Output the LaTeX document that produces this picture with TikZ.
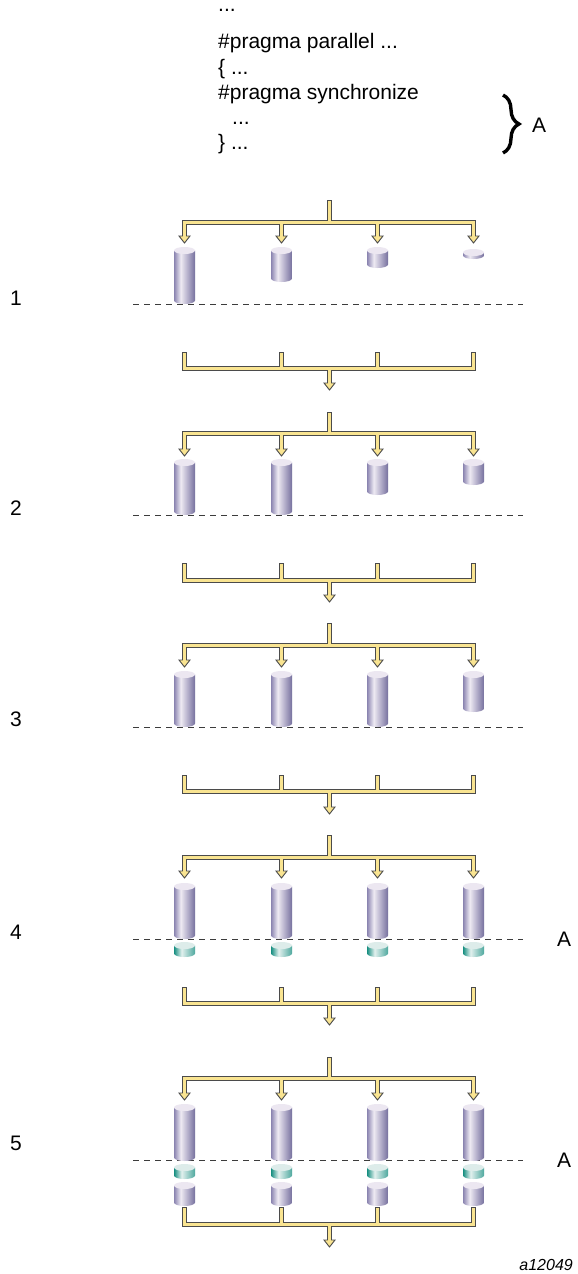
\documentclass[tikz,border=0pt]{standalone}
\usepackage{fontspec}
\setmainfont{Liberation Sans}
\usetikzlibrary{decorations.pathreplacing}
\definecolor{pipeyel}{RGB}{249,228,145}
\definecolor{pipedark}{RGB}{75,75,75}
\definecolor{dashcol}{RGB}{60,60,60}
\definecolor{pl}{RGB}{138,132,176}
\definecolor{ph}{RGB}{238,234,243}
\definecolor{pr}{RGB}{118,112,158}
\definecolor{ptop}{RGB}{236,231,241}
\definecolor{tl}{RGB}{22,142,128}
\definecolor{th}{RGB}{226,240,238}
\definecolor{tr}{RGB}{78,168,158}
\definecolor{ttop}{RGB}{221,236,234}
\pgfdeclarehorizontalshading{purpleside}{100bp}{color(0bp)=(pl); color(25bp)=(pl); color(41bp)=(ph); color(75bp)=(pr); color(100bp)=(pr)}
\pgfdeclarehorizontalshading{tealside}{100bp}{color(0bp)=(tl); color(25bp)=(tl); color(43bp)=(th); color(75bp)=(tr); color(100bp)=(tr)}
\tikzset{
  pipeout/.style={line width=5pt, draw=pipedark, line join=miter, line cap=butt},
  pipein/.style={line width=3pt, draw=pipeyel, line join=miter, line cap=butt},
  arrhead/.style={fill=pipeyel, draw=pipedark, line width=0.9pt, line join=miter},
  syncline/.style={draw=dashcol, line width=1pt, dash pattern=on 6pt off 5pt},
  codetext/.style={anchor=base west, inner sep=0pt, font=\fontsize{21}{25}\selectfont},
  lbl/.style={inner sep=0pt, font=\fontsize{21}{25}\selectfont},
}
% cylinder: x, top px, bottom px, side shading, top colour
\newcommand\cylbody[5]{%
  \shade[shading=#4] (#1-10.5,-#2-3.5) -- (#1-10.5,-#3+3.5)
    arc[start angle=180,end angle=360,x radius=10.5pt,y radius=3.5pt]
    -- (#1+10.5,-#2-3.5) -- cycle;
  \fill[#5] (#1,-#2-3.5) ellipse[x radius=10.5pt,y radius=3.5pt];
}
\newcommand\pcyl[3]{\cylbody{#1}{#2}{#3}{purpleside}{ptop}}
\newcommand\tcyl[3]{\cylbody{#1}{#2}{#3}{tealside}{ttop}}
% arrowhead with tip at x, y px
\newcommand\arrhd[2]{%
  \filldraw[arrhead] (#1-5.5,-#2+7) -- (#1+5.5,-#2+7) -- (#1,-#2) -- cycle;
}
% fork: stem top, bar y, tip y
\newcommand\forkpipe[3]{%
  \coordinate (fs) at (329.5,-#1);
  \coordinate (fb) at (329.5,-#2);
  \draw[pipeout] (fs) -- (fb);
  \draw[pipeout] (184.5,-#3+7) -- (184.5,-#2) -- (473.5,-#2) -- (473.5,-#3+7);
  \draw[pipeout] (281.5,-#2) -- (281.5,-#3+7);
  \draw[pipeout] (377.5,-#2) -- (377.5,-#3+7);
  \arrhd{184.5}{#3}\arrhd{281.5}{#3}\arrhd{377.5}{#3}\arrhd{473.5}{#3}
  \draw[pipein] (329.5,-#1-1) -- (fb);
  \draw[pipein] (184.5,-#3+6.3) -- (184.5,-#2) -- (473.5,-#2) -- (473.5,-#3+6.3);
  \draw[pipein] (281.5,-#2) -- (281.5,-#3+6.3);
  \draw[pipein] (377.5,-#2) -- (377.5,-#3+6.3);
}
% join: branch top, bar y, tip y
\newcommand\joinpipe[3]{%
  \coordinate (jb) at (329.5,-#2);
  \draw[pipeout] (184.5,-#1) -- (184.5,-#2) -- (473.5,-#2) -- (473.5,-#1);
  \draw[pipeout] (281.5,-#1) -- (281.5,-#2);
  \draw[pipeout] (377.5,-#1) -- (377.5,-#2);
  \draw[pipeout] (jb) -- (329.5,-#3+7);
  \arrhd{329.5}{#3}
  \draw[pipein] (184.5,-#1-1) -- (184.5,-#2) -- (473.5,-#2) -- (473.5,-#1-1);
  \draw[pipein] (281.5,-#1-1) -- (281.5,-#2);
  \draw[pipein] (377.5,-#1-1) -- (377.5,-#2);
  \draw[pipein] (jb) -- (329.5,-#3+6.3);
}
\begin{document}
\begin{tikzpicture}[x=1pt,y=1pt]
\fill[white] (0,0) rectangle (578,-1274);
\useasboundingbox (0,0) rectangle (578,-1274);

% code text
\node[codetext] (c0) at (218,-12) {...};
\node[codetext] (c1) at (218,-48.5) {\#pragma parallel ...};
\node[codetext] (c2) at (218,-74) {\{ ...};
\node[codetext] (c3) at (218,-99) {\#pragma synchronize};
\node[codetext] (c4) at (232,-124) {...};
\node[codetext] (c5) at (218,-149) {\} ...};
\coordinate (bt) at (503,-95);
\coordinate (bb) at (503,-153);
\draw[line width=3.4pt, decorate, decoration={brace, amplitude=16pt}] (bt) -- (bb);
\node[lbl, anchor=base west] (atop) at (532,-132) {A};

% dashed sync lines
\foreach \yy in {304,515,727,939,1160}{
  \draw[syncline] (133,-\yy) -- (523,-\yy);
}

% row labels
\node[lbl, anchor=base west] (r1) at (10,-305) {1};
\node[lbl, anchor=base west] (r2) at (10,-515) {2};
\node[lbl, anchor=base west] (r3) at (10,-726) {3};
\node[lbl, anchor=base west] (r4) at (10,-939) {4};
\node[lbl, anchor=base west] (r5) at (10,-1150) {5};
\node[lbl, anchor=west] (a4) at (557,-939) {A};
\node[lbl, anchor=west] (a5) at (557,-1160) {A};
\node[anchor=base east, inner sep=0pt, font=\fontsize{16}{19}\selectfont\itshape] (fig) at (573,-1270) {a12049};

% cylinders row 1
\pcyl{184.5}{247}{304}
\pcyl{281.5}{247}{282}
\pcyl{377.5}{247}{268}
\pcyl{473.5}{249}{259}
% row 2
\pcyl{184.5}{459}{515}
\pcyl{281.5}{459}{515}
\pcyl{377.5}{459}{495}
\pcyl{473.5}{459}{485}
% row 3
\pcyl{184.5}{671}{727}
\pcyl{281.5}{671}{727}
\pcyl{377.5}{671}{727}
\pcyl{473.5}{671}{712}
% row 4
\foreach \xx in {184.5,281.5,377.5,473.5}{
  \pcyl{\xx}{883}{939}
  \tcyl{\xx}{942}{957}
}
% row 5
\foreach \xx in {184.5,281.5,377.5,473.5}{
  \pcyl{\xx}{1104}{1161}
  \tcyl{\xx}{1164}{1179}
  \pcyl{\xx}{1182}{1206}
}

% pipes
\forkpipe{200}{222}{243}
\joinpipe{352}{368}{390}
\forkpipe{412}{433}{456}
\joinpipe{563}{580}{602}
\forkpipe{623}{645}{667}
\joinpipe{775}{791}{814}
\forkpipe{835}{857}{878}
\joinpipe{987}{1003}{1025}
\forkpipe{1057}{1078}{1100}
\joinpipe{1207}{1224}{1247}
\end{tikzpicture}
\end{document}
